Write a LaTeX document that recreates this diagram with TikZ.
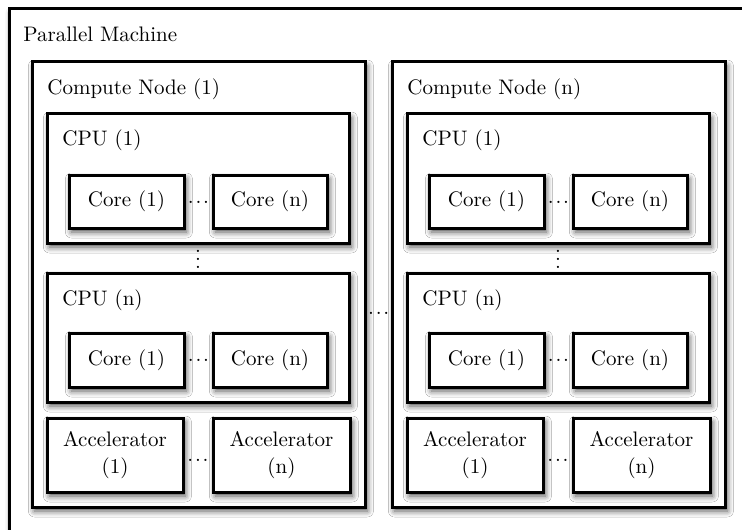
\documentclass[tikz,border=0pt]{standalone}
\usetikzlibrary{fit,shadows.blur}
\begin{document}
\begin{tikzpicture}[
  x=0.5pt, y=-0.5pt,
  every node/.style={font=\fontsize{10.5}{13.5}\selectfont},
  frame/.style={draw=black, line width=1.5pt, fill=white, inner sep=0pt,
    blur shadow={shadow xshift=1.2pt, shadow yshift=-2pt,
      shadow blur radius=3pt, shadow opacity=70}},
  title/.style={anchor=base west, inner sep=0pt},
  inlabel/.style={inner sep=0pt, align=center},
  hdots/.style={anchor=base, inner sep=0pt},
  vdotsnode/.style={anchor=base, inner sep=0pt},
]
\newcommand\dotrow{.\kern0.9pt.\kern0.9pt.}
\useasboundingbox (0,0) rectangle (742,529);
\clip (0,0) rectangle (742,529);

% the machine as a whole
\node[frame, fit={(9,9) (800,600)}] (machine) {};
\node[title] (machinelbl) at (23,41.5) {Parallel Machine};

% two compute nodes, side by side
\foreach \dx/\k in {0/1, 360/n} {
  \node[frame, fit={(32+\dx,62) (365+\dx,507)}] (cn\k) {};
  \node[title] (cnlbl\k) at (47+\dx,95) {Compute Node (\k)};

  % first CPU
  \node[frame, fit={(47+\dx,114) (349+\dx,243)}] (cpuone\k) {};
  \node[title] (cpuonelbl\k) at (62+\dx,146) {CPU (1)};
  \node[frame, fit={(69+\dx,175) (184+\dx,228)}] (coreoneone\k) {};
  \node[inlabel] (coreoneonelbl\k) at (coreoneone\k.center) {Core (1)};
  \node[frame, fit={(213+\dx,175) (327+\dx,228)}] (coreonen\k) {};
  \node[inlabel] (coreonenlbl\k) at (coreonen\k.center) {Core (n)};
  \node[hdots] (dotsone\k) at (198.5+\dx,203.5) {\dotrow};

  % vertical ellipsis between the CPUs
  \node[vdotsnode] (vd\k) at (198+\dx,268) {$\vdots$};

  % last CPU
  \node[frame, fit={(47+\dx,273) (349+\dx,402)}] (cpun\k) {};
  \node[title] (cpunlbl\k) at (62+\dx,305) {CPU (n)};
  \node[frame, fit={(69+\dx,333) (184+\dx,387)}] (corenone\k) {};
  \node[inlabel] (corenonelbl\k) at (corenone\k.center) {Core (1)};
  \node[frame, fit={(213+\dx,333) (327+\dx,387)}] (corenn\k) {};
  \node[inlabel] (cornnlbl\k) at (corenn\k.center) {Core (n)};
  \node[hdots] (dotsn\k) at (198.5+\dx,361.5) {\dotrow};

  % accelerators
  \node[frame, fit={(47+\dx,418) (183+\dx,492)}] (accone\k) {};
  \node[inlabel] (acconelbl\k) at (accone\k.center) {Accelerator\\(1)};
  \node[frame, fit={(213+\dx,418) (350+\dx,492)}] (accn\k) {};
  \node[inlabel] (accnlbl\k) at (accn\k.center) {Accelerator\\(n)};
  \node[hdots] (dotsacc\k) at (198+\dx,461) {\dotrow};
}

% ellipsis between the compute nodes
\node[hdots] (dotscn) at (378.7,314) {\dotrow};
\end{tikzpicture}
\end{document}
